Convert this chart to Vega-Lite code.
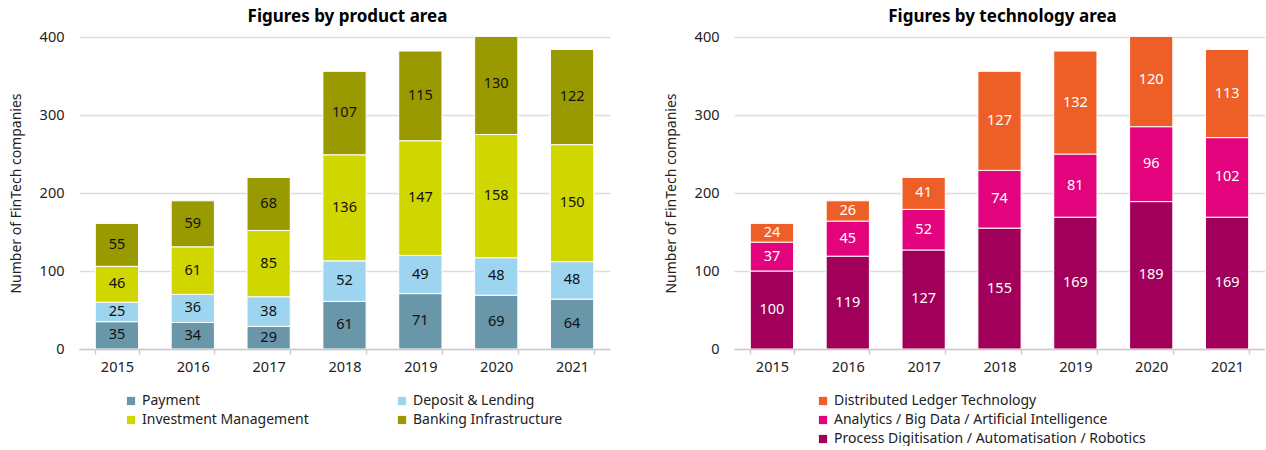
{
  "$schema": "https://vega.github.io/schema/vega-lite/v6.json",
  "padding": {"left": 9, "top": 8, "right": 0, "bottom": 0},
  "spacing": 54,
  "background": "white",
  "config": {
    "font": "Noto Sans",
    "view": {"stroke": null},
    "title": {"fontSize": 17, "fontWeight": "bold", "color": "#000000", "anchor": "middle", "offset": 3, "dx": 3},
    "axis": {"labelFontSize": 14.5, "labelColor": "#222222", "titleFontSize": 14, "titleFontWeight": "normal", "titleColor": "#222222"},
    "legend": {"labelFontSize": 14, "labelColor": "#222222", "symbolType": "square", "symbolSize": 68, "symbolStrokeWidth": 0, "rowPadding": 5, "labelOffset": 4, "labelLimit": 500}
  },
  "datasets": {
    "product": [
      {"year": "2015", "area": "Payment", "rank": 1, "v": 35},
      {"year": "2015", "area": "Deposit & Lending", "rank": 2, "v": 25},
      {"year": "2015", "area": "Investment Management", "rank": 3, "v": 46},
      {"year": "2015", "area": "Banking Infrastructure", "rank": 4, "v": 55},
      {"year": "2016", "area": "Payment", "rank": 1, "v": 34},
      {"year": "2016", "area": "Deposit & Lending", "rank": 2, "v": 36},
      {"year": "2016", "area": "Investment Management", "rank": 3, "v": 61},
      {"year": "2016", "area": "Banking Infrastructure", "rank": 4, "v": 59},
      {"year": "2017", "area": "Payment", "rank": 1, "v": 29},
      {"year": "2017", "area": "Deposit & Lending", "rank": 2, "v": 38},
      {"year": "2017", "area": "Investment Management", "rank": 3, "v": 85},
      {"year": "2017", "area": "Banking Infrastructure", "rank": 4, "v": 68},
      {"year": "2018", "area": "Payment", "rank": 1, "v": 61},
      {"year": "2018", "area": "Deposit & Lending", "rank": 2, "v": 52},
      {"year": "2018", "area": "Investment Management", "rank": 3, "v": 136},
      {"year": "2018", "area": "Banking Infrastructure", "rank": 4, "v": 107},
      {"year": "2019", "area": "Payment", "rank": 1, "v": 71},
      {"year": "2019", "area": "Deposit & Lending", "rank": 2, "v": 49},
      {"year": "2019", "area": "Investment Management", "rank": 3, "v": 147},
      {"year": "2019", "area": "Banking Infrastructure", "rank": 4, "v": 115},
      {"year": "2020", "area": "Payment", "rank": 1, "v": 69},
      {"year": "2020", "area": "Deposit & Lending", "rank": 2, "v": 48},
      {"year": "2020", "area": "Investment Management", "rank": 3, "v": 158},
      {"year": "2020", "area": "Banking Infrastructure", "rank": 4, "v": 130},
      {"year": "2021", "area": "Payment", "rank": 1, "v": 64},
      {"year": "2021", "area": "Deposit & Lending", "rank": 2, "v": 48},
      {"year": "2021", "area": "Investment Management", "rank": 3, "v": 150},
      {"year": "2021", "area": "Banking Infrastructure", "rank": 4, "v": 122}
    ],
    "tech": [
      {"year": "2015", "area": "Process Digitisation / Automatisation / Robotics", "rank": 1, "v": 100},
      {"year": "2015", "area": "Analytics / Big Data / Artificial Intelligence", "rank": 2, "v": 37},
      {"year": "2015", "area": "Distributed Ledger Technology", "rank": 3, "v": 24},
      {"year": "2016", "area": "Process Digitisation / Automatisation / Robotics", "rank": 1, "v": 119},
      {"year": "2016", "area": "Analytics / Big Data / Artificial Intelligence", "rank": 2, "v": 45},
      {"year": "2016", "area": "Distributed Ledger Technology", "rank": 3, "v": 26},
      {"year": "2017", "area": "Process Digitisation / Automatisation / Robotics", "rank": 1, "v": 127},
      {"year": "2017", "area": "Analytics / Big Data / Artificial Intelligence", "rank": 2, "v": 52},
      {"year": "2017", "area": "Distributed Ledger Technology", "rank": 3, "v": 41},
      {"year": "2018", "area": "Process Digitisation / Automatisation / Robotics", "rank": 1, "v": 155},
      {"year": "2018", "area": "Analytics / Big Data / Artificial Intelligence", "rank": 2, "v": 74},
      {"year": "2018", "area": "Distributed Ledger Technology", "rank": 3, "v": 127},
      {"year": "2019", "area": "Process Digitisation / Automatisation / Robotics", "rank": 1, "v": 169},
      {"year": "2019", "area": "Analytics / Big Data / Artificial Intelligence", "rank": 2, "v": 81},
      {"year": "2019", "area": "Distributed Ledger Technology", "rank": 3, "v": 132},
      {"year": "2020", "area": "Process Digitisation / Automatisation / Robotics", "rank": 1, "v": 189},
      {"year": "2020", "area": "Analytics / Big Data / Artificial Intelligence", "rank": 2, "v": 96},
      {"year": "2020", "area": "Distributed Ledger Technology", "rank": 3, "v": 120},
      {"year": "2021", "area": "Process Digitisation / Automatisation / Robotics", "rank": 1, "v": 169},
      {"year": "2021", "area": "Analytics / Big Data / Artificial Intelligence", "rank": 2, "v": 102},
      {"year": "2021", "area": "Distributed Ledger Technology", "rank": 3, "v": 113}
    ]
  },
  "resolve": {"scale": {"color": "independent", "y": "independent", "x": "independent"}, "legend": {"color": "independent"}},
  "hconcat": [
    {
      "width": 531,
      "height": 312,
      "title": "Figures by product area",
      "data": {"name": "product"},
      "transform": [
        {"stack": "v", "groupby": ["year"], "sort": [{"field": "rank", "order": "ascending"}], "as": ["y0", "y1"]}
      ],
      "encoding": {
        "x": {"field": "year", "type": "ordinal", "title": null,
          "scale": {"paddingInner": 0.43, "paddingOuter": 0.215},
          "axis": {"labelAngle": 0, "domainColor": "#cccccc", "domainWidth": 1.5, "tickColor": "#cccccc", "tickWidth": 1.5, "tickBand": "extent", "tickSize": 5, "labelPadding": 6, "grid": false}}
      },
      "layer": [
        {
          "mark": {"type": "bar", "clip": true, "stroke": "white", "strokeWidth": 1},
          "encoding": {
            "y": {"field": "y0", "type": "quantitative", "title": "Number of FinTech companies",
              "scale": {"domain": [0, 400], "nice": false},
              "axis": {"values": [0, 100, 200, 300, 400], "domain": false, "ticks": false, "labelPadding": 15, "gridColor": "#dddddd", "gridWidth": 1.5, "titlePadding": 16}},
            "y2": {"field": "y1"},
            "color": {"field": "area", "type": "nominal",
              "scale": {"domain": ["Payment", "Deposit & Lending", "Investment Management", "Banking Infrastructure"], "range": ["#6a96aa", "#9dd4f0", "#d0d700", "#989a00"]},
              "legend": {"title": null, "orient": "none", "legendX": 45, "legendY": 357, "columns": 2, "direction": "horizontal", "columnPadding": 86}}
          }
        },
        {
          "transform": [
            {"fold": ["y0", "y1"], "as": ["k", "pos"]},
            {"aggregate": [{"op": "mean", "field": "pos", "as": "mid"}], "groupby": ["year", "area", "v"]}
          ],
          "mark": {"type": "text", "fontSize": 14.5, "color": "#111111", "baseline": "middle"},
          "encoding": {
            "y": {"field": "mid", "type": "quantitative"},
            "text": {"field": "v", "type": "quantitative"}
          }
        }
      ]
    },
    {
      "width": 531,
      "height": 312,
      "title": "Figures by technology area",
      "data": {"name": "tech"},
      "transform": [
        {"stack": "v", "groupby": ["year"], "sort": [{"field": "rank", "order": "ascending"}], "as": ["y0", "y1"]}
      ],
      "encoding": {
        "x": {"field": "year", "type": "ordinal", "title": null,
          "scale": {"paddingInner": 0.43, "paddingOuter": 0.215},
          "axis": {"labelAngle": 0, "domainColor": "#cccccc", "domainWidth": 1.5, "tickColor": "#cccccc", "tickWidth": 1.5, "tickBand": "extent", "tickSize": 5, "labelPadding": 6, "grid": false}}
      },
      "layer": [
        {
          "mark": {"type": "bar", "clip": true, "stroke": "white", "strokeWidth": 1},
          "encoding": {
            "y": {"field": "y0", "type": "quantitative", "title": "Number of FinTech companies",
              "scale": {"domain": [0, 400], "nice": false},
              "axis": {"values": [0, 100, 200, 300, 400], "domain": false, "ticks": false, "labelPadding": 15, "gridColor": "#dddddd", "gridWidth": 1.5, "titlePadding": 16}},
            "y2": {"field": "y1"},
            "color": {"field": "area", "type": "nominal",
              "scale": {"domain": ["Distributed Ledger Technology", "Analytics / Big Data / Artificial Intelligence", "Process Digitisation / Automatisation / Robotics"], "range": ["#ee5f28", "#e2037d", "#a0005a"]},
              "legend": {"title": null, "orient": "none", "legendX": 82, "legendY": 357, "columns": 1}}
          }
        },
        {
          "transform": [
            {"fold": ["y0", "y1"], "as": ["k", "pos"]},
            {"aggregate": [{"op": "mean", "field": "pos", "as": "mid"}], "groupby": ["year", "area", "v"]}
          ],
          "mark": {"type": "text", "fontSize": 14.5, "color": "white", "baseline": "middle"},
          "encoding": {
            "y": {"field": "mid", "type": "quantitative"},
            "text": {"field": "v", "type": "quantitative"}
          }
        }
      ]
    }
  ]
}
